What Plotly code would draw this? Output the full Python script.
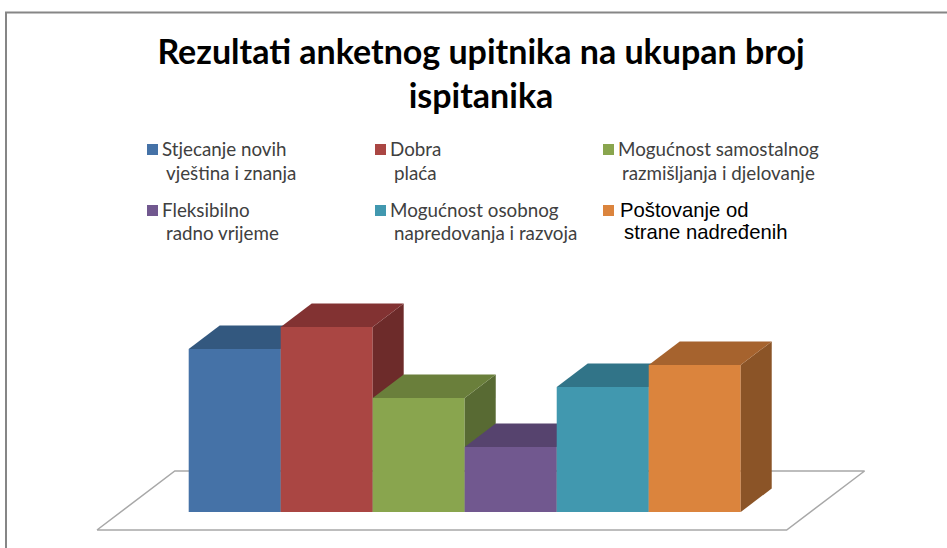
import plotly.graph_objects as go

categories = ["Stjecanje novih vještina i znanja", "Dobra plaća",
              "Mogućnost samostalnog razmišljanja i djelovanje", "Fleksibilno radno vrijeme",
              "Mogućnost osobnog napredovanja i razvoja", "Poštovanje od strane nadređenih"]
values = [163, 185, 114, 65, 125, 147]
front_colors = ["#4572A7", "#AA4643", "#89A54E", "#71588F", "#4198AF", "#DB843D"]
top_colors = ["#33587F", "#823232", "#6A7F3B", "#56436E", "#317488", "#A6632E"]
side_colors = ["#2B4A6B", "#6D2B2A", "#586A33", "#483859", "#295F70", "#8B5427"]
legend_lines = [["Stjecanje novih", "vještina i znanja"], ["Dobra", "plaća"],
                ["Mogućnost samostalnog", "razmišljanja i djelovanje"],
                ["Fleksibilno", "radno vrijeme"], ["Mogućnost osobnog", "napredovanja i razvoja"],
                ["Poštovanje od", "strane nadređenih"]]
title_text = "Rezultati anketnog upitnika na ukupan broj<br>ispitanika"

W, H = 947, 548
X_RANGE = [-2.551, 7.742]
Y_RANGE = [-36, 512]
DX, DY = 0.337, 23.5


def px(x):
    return x / W


def py(y):
    return 1 - y / H


fig = go.Figure()

# floor
fig.add_trace(go.Scatter(x=[-1.497, 5.999, 6.846, -0.651, -1.497], y=[-18, -18, 41, 41, -18],
                         mode="lines", fill="toself", fillcolor="#FFFFFF",
                         line=dict(color="#A8A8A8", width=1.5), hoverinfo="skip", xaxis="x", yaxis="y"))

for i, (c, v) in enumerate(zip(categories, values)):
    ax = str(i + 2)
    xa, ya = "x" + ax, "y" + ax
    x0, x1 = i - 0.5, i + 0.5
    fig.add_trace(go.Scatter(x=[x1, x1 + DX, x1 + DX, x1, x1], y=[0, DY, v + DY, v, 0],
                             mode="lines", fill="toself", fillcolor=side_colors[i],
                             line=dict(width=0), hoverinfo="skip", xaxis=xa, yaxis=ya))
    fig.add_trace(go.Scatter(x=[x0, x0 + DX, x1 + DX, x1, x0], y=[v, v + DY, v + DY, v, v],
                             mode="lines", fill="toself", fillcolor=top_colors[i],
                             line=dict(width=0), hoverinfo="skip", xaxis=xa, yaxis=ya))
    fig.add_trace(go.Bar(x=[i], y=[v], width=1, name=c, marker=dict(color=front_colors[i], line=dict(width=0)),
                         xaxis=xa, yaxis=ya))

axis_opts = dict(visible=False, fixedrange=True)
layout = dict(xaxis=dict(range=X_RANGE, domain=[0, 1], **axis_opts),
              yaxis=dict(range=Y_RANGE, domain=[0, 1], **axis_opts))
for i in range(2, len(values) + 2):
    layout[f"xaxis{i}"] = dict(range=X_RANGE, overlaying="x", **axis_opts)
    layout[f"yaxis{i}"] = dict(range=Y_RANGE, overlaying="y", **axis_opts)

anns, shapes = [], []
LEG_X = [147, 375, 603]
LEG_Y = [144, 205]
TXT = "#404040"
for i, lines in enumerate(legend_lines):
    col, row = i % 3, i // 3
    sx, sy = LEG_X[col], LEG_Y[row]
    shapes.append(dict(type="rect", xref="paper", yref="paper", x0=px(sx), x1=px(sx + 11),
                       y0=py(sy), y1=py(sy + 11), fillcolor=front_colors[i], line=dict(width=0)))
    last = i == 5
    font = dict(family="Liberation Sans" if last else "Lato", size=20.3 if last else 18.8,
                color="#000000" if last else TXT)
    for j, text in enumerate(lines):
        off = (13 if j == 0 else 17) + (2 if last else 0)
        yc = sy + 4.5 + (0 if j == 0 else (24 if row == 0 else 23))
        anns.append(dict(text=text, xref="paper", yref="paper", x=px(sx + off), y=py(yc),
                         xanchor="left", yanchor="middle", showarrow=False, font=font))

# frame
shapes.append(dict(type="path", xref="paper", yref="paper",
                   path=f"M {px(6)} {py(560)} L {px(6)} {py(12.5)} L {px(960)} {py(12.5)}",
                   line=dict(color="#868686", width=2)))

fig.update_layout(
    width=W, height=H, margin=dict(l=0, r=0, t=0, b=0), autosize=False,
    paper_bgcolor="#FFFFFF", plot_bgcolor="#FFFFFF", showlegend=False,
    title=dict(text=title_text, x=481 / W, xanchor="center", xref="paper", yref="container",
               y=py(64), yanchor="top", font=dict(family="Lato", size=34, color="#000000", weight="bold")),
    annotations=anns, shapes=shapes, barmode="overlay", **layout)

fig.write_html("out.html", config={"displayModeBar": False},
               post_script="document.body.style.margin='0';document.body.style.overflow='hidden';")
